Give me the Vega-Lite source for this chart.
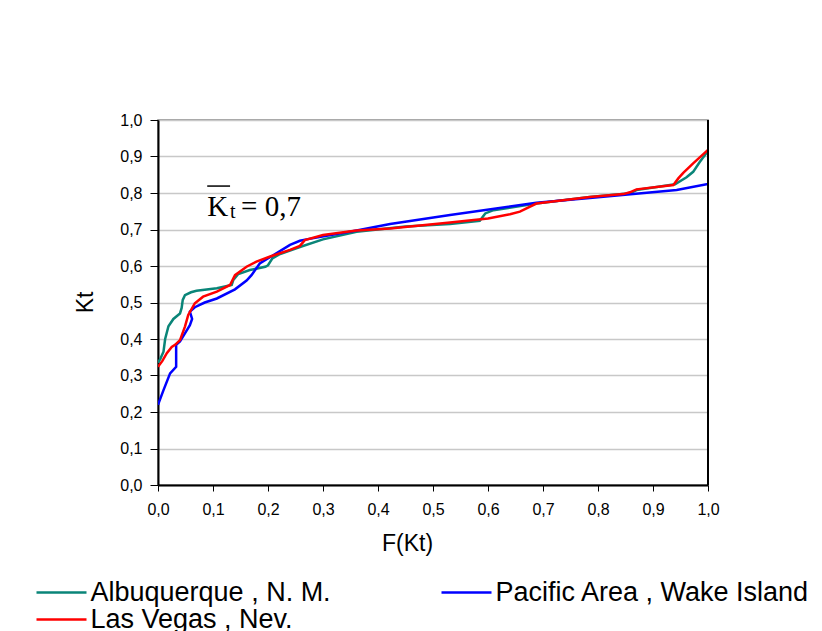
{
  "$schema": "https://vega.github.io/schema/vega-lite/v6.json",
  "width": 550,
  "height": 365,
  "autosize": {"type": "none"},
  "padding": {"left": 158, "top": 120, "right": 114, "bottom": 146},
  "background": "white",
  "config": {
    "view": {"stroke": "#808080", "strokeWidth": 1.5},
    "font": "Liberation Sans"
  },
  "datasets": {
    "curves": [
      {"station": "Albuquerque , N. M.", "F": 0.0, "Kt": 0.335},
      {"station": "Albuquerque , N. M.", "F": 0.004, "Kt": 0.345},
      {"station": "Albuquerque , N. M.", "F": 0.01, "Kt": 0.365},
      {"station": "Albuquerque , N. M.", "F": 0.013, "Kt": 0.4},
      {"station": "Albuquerque , N. M.", "F": 0.019, "Kt": 0.435},
      {"station": "Albuquerque , N. M.", "F": 0.028, "Kt": 0.455},
      {"station": "Albuquerque , N. M.", "F": 0.04, "Kt": 0.47},
      {"station": "Albuquerque , N. M.", "F": 0.043, "Kt": 0.485},
      {"station": "Albuquerque , N. M.", "F": 0.045, "Kt": 0.507},
      {"station": "Albuquerque , N. M.", "F": 0.049, "Kt": 0.52},
      {"station": "Albuquerque , N. M.", "F": 0.06, "Kt": 0.528},
      {"station": "Albuquerque , N. M.", "F": 0.07, "Kt": 0.532},
      {"station": "Albuquerque , N. M.", "F": 0.107, "Kt": 0.539},
      {"station": "Albuquerque , N. M.", "F": 0.134, "Kt": 0.548},
      {"station": "Albuquerque , N. M.", "F": 0.137, "Kt": 0.562},
      {"station": "Albuquerque , N. M.", "F": 0.146, "Kt": 0.578},
      {"station": "Albuquerque , N. M.", "F": 0.167, "Kt": 0.589},
      {"station": "Albuquerque , N. M.", "F": 0.195, "Kt": 0.598},
      {"station": "Albuquerque , N. M.", "F": 0.2, "Kt": 0.602},
      {"station": "Albuquerque , N. M.", "F": 0.208, "Kt": 0.621},
      {"station": "Albuquerque , N. M.", "F": 0.222, "Kt": 0.633},
      {"station": "Albuquerque , N. M.", "F": 0.258, "Kt": 0.652},
      {"station": "Albuquerque , N. M.", "F": 0.3, "Kt": 0.673},
      {"station": "Albuquerque , N. M.", "F": 0.361, "Kt": 0.694},
      {"station": "Albuquerque , N. M.", "F": 0.45, "Kt": 0.708},
      {"station": "Albuquerque , N. M.", "F": 0.531, "Kt": 0.715},
      {"station": "Albuquerque , N. M.", "F": 0.585, "Kt": 0.724},
      {"station": "Albuquerque , N. M.", "F": 0.595, "Kt": 0.744},
      {"station": "Albuquerque , N. M.", "F": 0.61, "Kt": 0.753},
      {"station": "Albuquerque , N. M.", "F": 0.688, "Kt": 0.771},
      {"station": "Albuquerque , N. M.", "F": 0.785, "Kt": 0.789},
      {"station": "Albuquerque , N. M.", "F": 0.858, "Kt": 0.799},
      {"station": "Albuquerque , N. M.", "F": 0.87, "Kt": 0.808},
      {"station": "Albuquerque , N. M.", "F": 0.94, "Kt": 0.824},
      {"station": "Albuquerque , N. M.", "F": 0.961, "Kt": 0.843},
      {"station": "Albuquerque , N. M.", "F": 0.973, "Kt": 0.858},
      {"station": "Albuquerque , N. M.", "F": 0.985, "Kt": 0.885},
      {"station": "Albuquerque , N. M.", "F": 1.0, "Kt": 0.915},
      {"station": "Pacific Area , Wake Island", "F": 0.0, "Kt": 0.22},
      {"station": "Pacific Area , Wake Island", "F": 0.01, "Kt": 0.26},
      {"station": "Pacific Area , Wake Island", "F": 0.022, "Kt": 0.306},
      {"station": "Pacific Area , Wake Island", "F": 0.033, "Kt": 0.324},
      {"station": "Pacific Area , Wake Island", "F": 0.033, "Kt": 0.384},
      {"station": "Pacific Area , Wake Island", "F": 0.04, "Kt": 0.393},
      {"station": "Pacific Area , Wake Island", "F": 0.058, "Kt": 0.438},
      {"station": "Pacific Area , Wake Island", "F": 0.062, "Kt": 0.455},
      {"station": "Pacific Area , Wake Island", "F": 0.058, "Kt": 0.475},
      {"station": "Pacific Area , Wake Island", "F": 0.067, "Kt": 0.487},
      {"station": "Pacific Area , Wake Island", "F": 0.085, "Kt": 0.5},
      {"station": "Pacific Area , Wake Island", "F": 0.107, "Kt": 0.511},
      {"station": "Pacific Area , Wake Island", "F": 0.14, "Kt": 0.536},
      {"station": "Pacific Area , Wake Island", "F": 0.161, "Kt": 0.56},
      {"station": "Pacific Area , Wake Island", "F": 0.17, "Kt": 0.575},
      {"station": "Pacific Area , Wake Island", "F": 0.185, "Kt": 0.607},
      {"station": "Pacific Area , Wake Island", "F": 0.21, "Kt": 0.63},
      {"station": "Pacific Area , Wake Island", "F": 0.24, "Kt": 0.658},
      {"station": "Pacific Area , Wake Island", "F": 0.258, "Kt": 0.669},
      {"station": "Pacific Area , Wake Island", "F": 0.27, "Kt": 0.673},
      {"station": "Pacific Area , Wake Island", "F": 0.361, "Kt": 0.697},
      {"station": "Pacific Area , Wake Island", "F": 0.422, "Kt": 0.715},
      {"station": "Pacific Area , Wake Island", "F": 0.531, "Kt": 0.74},
      {"station": "Pacific Area , Wake Island", "F": 0.688, "Kt": 0.773},
      {"station": "Pacific Area , Wake Island", "F": 0.785, "Kt": 0.786},
      {"station": "Pacific Area , Wake Island", "F": 0.943, "Kt": 0.808},
      {"station": "Pacific Area , Wake Island", "F": 1.0, "Kt": 0.825},
      {"station": "Las Vegas , Nev.", "F": 0.0, "Kt": 0.324},
      {"station": "Las Vegas , Nev.", "F": 0.008, "Kt": 0.34},
      {"station": "Las Vegas , Nev.", "F": 0.016, "Kt": 0.361},
      {"station": "Las Vegas , Nev.", "F": 0.025, "Kt": 0.378},
      {"station": "Las Vegas , Nev.", "F": 0.031, "Kt": 0.384},
      {"station": "Las Vegas , Nev.", "F": 0.04, "Kt": 0.397},
      {"station": "Las Vegas , Nev.", "F": 0.049, "Kt": 0.434},
      {"station": "Las Vegas , Nev.", "F": 0.055, "Kt": 0.466},
      {"station": "Las Vegas , Nev.", "F": 0.067, "Kt": 0.498},
      {"station": "Las Vegas , Nev.", "F": 0.082, "Kt": 0.516},
      {"station": "Las Vegas , Nev.", "F": 0.107, "Kt": 0.53},
      {"station": "Las Vegas , Nev.", "F": 0.131, "Kt": 0.548},
      {"station": "Las Vegas , Nev.", "F": 0.14, "Kt": 0.575},
      {"station": "Las Vegas , Nev.", "F": 0.161, "Kt": 0.598},
      {"station": "Las Vegas , Nev.", "F": 0.179, "Kt": 0.612},
      {"station": "Las Vegas , Nev.", "F": 0.204, "Kt": 0.626},
      {"station": "Las Vegas , Nev.", "F": 0.24, "Kt": 0.644},
      {"station": "Las Vegas , Nev.", "F": 0.258, "Kt": 0.655},
      {"station": "Las Vegas , Nev.", "F": 0.267, "Kt": 0.671},
      {"station": "Las Vegas , Nev.", "F": 0.3, "Kt": 0.685},
      {"station": "Las Vegas , Nev.", "F": 0.361, "Kt": 0.697},
      {"station": "Las Vegas , Nev.", "F": 0.422, "Kt": 0.703},
      {"station": "Las Vegas , Nev.", "F": 0.531, "Kt": 0.719},
      {"station": "Las Vegas , Nev.", "F": 0.6, "Kt": 0.73},
      {"station": "Las Vegas , Nev.", "F": 0.64, "Kt": 0.742},
      {"station": "Las Vegas , Nev.", "F": 0.658, "Kt": 0.749},
      {"station": "Las Vegas , Nev.", "F": 0.688, "Kt": 0.771},
      {"station": "Las Vegas , Nev.", "F": 0.785, "Kt": 0.789},
      {"station": "Las Vegas , Nev.", "F": 0.846, "Kt": 0.797},
      {"station": "Las Vegas , Nev.", "F": 0.858, "Kt": 0.802},
      {"station": "Las Vegas , Nev.", "F": 0.87, "Kt": 0.81},
      {"station": "Las Vegas , Nev.", "F": 0.937, "Kt": 0.822},
      {"station": "Las Vegas , Nev.", "F": 0.946, "Kt": 0.84},
      {"station": "Las Vegas , Nev.", "F": 0.955, "Kt": 0.855},
      {"station": "Las Vegas , Nev.", "F": 0.973, "Kt": 0.881},
      {"station": "Las Vegas , Nev.", "F": 1.0, "Kt": 0.918}
    ],
    "bigtext": [
      {"F": 0.0895, "Kt": 0.737, "label": "K"},
      {"F": 0.151, "Kt": 0.737, "label": "= 0,7"}
    ],
    "subtext": [
      {"F": 0.1309, "Kt": 0.7315, "label": "t"}
    ],
    "bar": [
      {"F": 0.0895, "F2": 0.131, "Kt": 0.819}
    ],
    "edge": [
      {"F": 1.0, "Kt": 0.0, "Kt2": 1.0}
    ]
  },
  "encoding": {
    "x": {
      "field": "F", "type": "quantitative",
      "scale": {"domain": [0, 1], "nice": false, "zero": false},
      "axis": {
        "title": "F(Kt)",
        "values": [0, 0.1, 0.2, 0.3, 0.4, 0.5, 0.6, 0.7, 0.8, 0.9, 1.0],
        "labelExpr": "replace(format(datum.value, '.1f'), '.', ',')",
        "labelOverlap": false,
        "grid": false,
        "domainColor": "black", "domainWidth": 2,
        "tickColor": "black", "tickWidth": 1, "tickSize": 6,
        "labelColor": "black", "labelFont": "Liberation Sans", "labelFontSize": 16,
        "labelPadding": 10, "labelFlush": false,
        "titleColor": "black", "titleFont": "Liberation Sans", "titleFontSize": 23, "titleFontWeight": "normal",
        "titleX": 249, "titleY": 65, "titleBaseline": "alphabetic", "titleAnchor": null
      }
    },
    "y": {
      "field": "Kt", "type": "quantitative",
      "scale": {"domain": [0, 1], "nice": false, "zero": false},
      "axis": {
        "title": "Kt",
        "values": [0, 0.1, 0.2, 0.3, 0.4, 0.5, 0.6, 0.7, 0.8, 0.9, 1.0],
        "tickCount": 11,
        "labelExpr": "replace(format(datum.value, '.1f'), '.', ',')",
        "labelOverlap": false,
        "grid": true, "gridColor": "#c8c8c8", "gridWidth": 1.5,
        "domainColor": "black", "domainWidth": 2,
        "tickColor": "black", "tickWidth": 1, "tickSize": 8,
        "labelColor": "black", "labelFont": "Liberation Sans", "labelFontSize": 16,
        "labelPadding": 8, "labelFlush": false,
        "titleColor": "black", "titleFont": "Liberation Sans", "titleFontSize": 23, "titleFontWeight": "normal",
        "titleX": -66, "titleY": 182, "titleBaseline": "alphabetic", "titleAngle": -90, "titleAlign": "center"
      }
    }
  },
  "layer": [
    {
      "data": {"name": "curves"},
      "mark": {"type": "line", "strokeWidth": 2.5, "clip": true},
      "encoding": {
        "color": {
          "field": "station", "type": "nominal",
          "scale": {
            "domain": ["Albuquerque , N. M.", "Pacific Area , Wake Island", "Las Vegas , Nev."],
            "range": ["#0a8578", "#0000ff", "#ff0000"]
          },
          "legend": {
            "title": null,
            "orient": "none",
            "direction": "horizontal",
            "legendX": -110.5,
            "legendY": 458.5,
            "columns": 2,
            "columnPadding": 105,
            "rowPadding": 0,
            "symbolType": "M-2,0H2",
            "symbolSize": 625,
            "symbolStrokeWidth": 2.5,
            "labelOffset": 15,
            "labelFont": "Liberation Sans",
            "labelFontSize": 27,
            "labelColor": "black",
            "labelLimit": 0,
            "padding": 0
          }
        },
        "order": {"value": null}
      }
    },
    {
      "data": {"name": "edge"},
      "mark": {"type": "rule", "color": "black", "strokeWidth": 2},
      "encoding": {
        "y2": {"field": "Kt2"}
      }
    },
    {
      "data": {"name": "bar"},
      "mark": {"type": "rule", "color": "black", "strokeWidth": 1.5},
      "encoding": {
        "x2": {"field": "F2"}
      }
    },
    {
      "data": {"name": "bigtext"},
      "mark": {"type": "text", "font": "Liberation Serif", "fontSize": 29, "align": "left", "baseline": "alphabetic", "color": "black"},
      "encoding": {
        "text": {"field": "label"}
      }
    },
    {
      "data": {"name": "subtext"},
      "mark": {"type": "text", "font": "Liberation Serif", "fontSize": 20, "align": "left", "baseline": "alphabetic", "color": "black"},
      "encoding": {
        "text": {"field": "label"}
      }
    }
  ]
}
